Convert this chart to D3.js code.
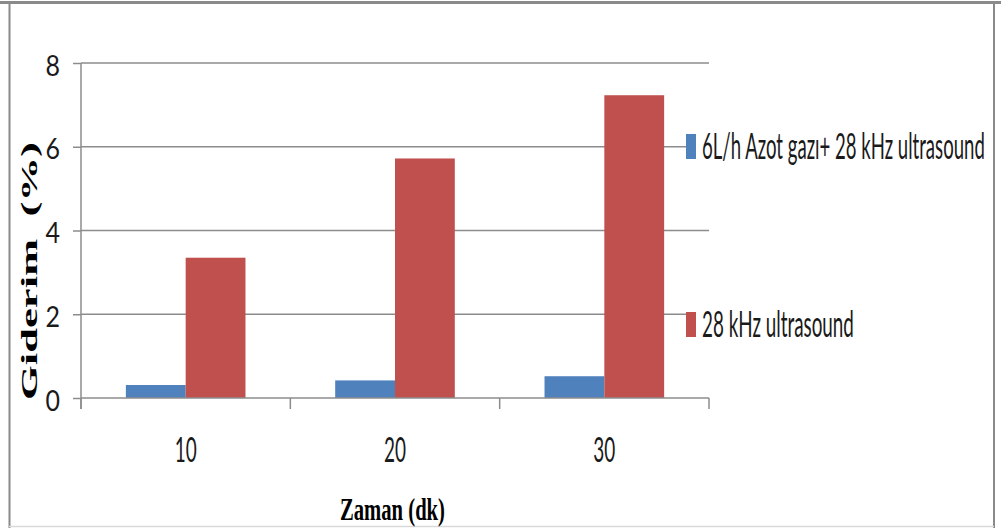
<!DOCTYPE html>
<html>
<head>
<meta charset="utf-8">
<script src="https://cdn.jsdelivr.net/npm/d3@7"></script>
<style>
  html, body { margin: 0; padding: 0; background: #fff; }
  svg { display: block; }
</style>
</head>
<body>
<svg id="chart" width="1001" height="528"></svg>
<script>
// ---- data ----
const categories = ["10", "20", "30"];
const seriesNames = ["6L/h Azot gazı+ 28 kHz ultrasound", "28 kHz ultrasound"];
const azotValues = [0.31, 0.42, 0.52];
const ultrasoundValues = [3.35, 5.72, 7.23];
const seriesColors = ["#4F81BD", "#C0504D"];
const yTicks = [0, 2, 4, 6, 8];
const xTitle = "Zaman (dk)";
const yTitle = "Giderim  (%)";

const seriesValues = [azotValues, ultrasoundValues];

const svg = d3.select("#chart");
const plot = { left: 81, right: 709, top: 63, bottom: 398 };
const sansFont = "Lato, 'Open Sans', sans-serif";
const serifFont = "'Liberation Serif', 'Times New Roman', serif";

// place a text at (px,py) with a horizontal squeeze so that its width equals w
function fitText(sel, px, py, w, rotate) {
  sel.each(function () {
    const t = d3.select(this);
    t.attr("x", 0).attr("y", 0).attr("dy", null);
    const natural = this.getComputedTextLength();
    const s = w / natural;
    const rot = rotate ? ` rotate(${rotate})` : "";
    t.attr("transform", `translate(${px},${py})${rot} scale(${s},1)`);
  });
}

// frame
svg.append("rect").attr("x", 0).attr("y", 0).attr("width", 1001).attr("height", 528).attr("fill", "#fff");
svg.append("line").attr("x1", 0).attr("x2", 1001).attr("y1", 2.5).attr("y2", 2.5)
  .attr("stroke", "#8a8a8a").attr("stroke-width", 3);
svg.append("line").attr("x1", 9.5).attr("x2", 9.5).attr("y1", 2).attr("y2", 528)
  .attr("stroke", "#8a8a8a").attr("stroke-width", 2);
svg.append("line").attr("x1", 994).attr("x2", 994).attr("y1", 2).attr("y2", 528)
  .attr("stroke", "#8a8a8a").attr("stroke-width", 2);
svg.append("line").attr("x1", 9).attr("x2", 994).attr("y1", 526.5).attr("y2", 526.5)
  .attr("stroke", "#d9d9d9").attr("stroke-width", 1.5);

// scales
const x = d3.scaleBand().domain(categories).range([plot.left, plot.right]).paddingInner(0).paddingOuter(0);
const xSub = d3.scaleBand().domain(d3.range(seriesNames.length)).range([0, x.bandwidth()])
  .paddingInner(0).paddingOuter(0.75);
const y = d3.scaleLinear().domain([0, 8]).range([plot.bottom, plot.top]);

// gridlines
svg.append("g").selectAll("line").data(yTicks.filter(d => d > 0)).join("line")
  .attr("x1", plot.left).attr("x2", plot.right)
  .attr("y1", d => y(d)).attr("y2", d => y(d))
  .attr("stroke", "#8c8c8c").attr("stroke-width", 1.5);

// bars
const groups = svg.append("g").selectAll("g").data(seriesNames).join("g")
  .attr("fill", (d, i) => seriesColors[i]);
groups.selectAll("rect").data((d, i) => seriesValues[i].map((v, j) => ({ v, cat: categories[j], s: i })))
  .join("rect")
  .attr("x", d => x(d.cat) + xSub(d.s))
  .attr("width", xSub.bandwidth())
  .attr("y", d => y(d.v))
  .attr("height", d => y(0) - y(d.v));

// y axis
const yAxis = svg.append("g").attr("transform", `translate(${plot.left},0)`)
  .call(d3.axisLeft(y).tickValues(yTicks).tickSize(8).tickPadding(21).tickFormat(d3.format("d")));
yAxis.select(".domain").attr("stroke", "#8c8c8c").attr("stroke-width", 1.5)
  .attr("d", `M0,${plot.top}V${plot.bottom + 11}`);
yAxis.selectAll(".tick line").attr("stroke", "#8c8c8c").attr("stroke-width", 1.5);
yAxis.selectAll(".tick text")
  .attr("font-family", sansFont).attr("font-size", 29).attr("fill", "#1a1a1a")
  .attr("text-anchor", "end")
  .each(function () { fitText(d3.select(this), -21, 12, 14.5); });

// x axis
const xAxis = svg.append("g").attr("transform", `translate(0,${plot.bottom})`)
  .call(d3.axisBottom(x).tickSize(0).tickPadding(0));
xAxis.select(".domain").attr("stroke", "#8c8c8c").attr("stroke-width", 1.5)
  .attr("d", `M${plot.left},0H${plot.right}`);
xAxis.selectAll(".tick text")
  .attr("font-family", sansFont).attr("font-size", 35).attr("fill", "#1a1a1a")
  .attr("text-anchor", "middle")
  .each(function () { fitText(d3.select(this), 0, 64, 22); });
// category separators
const sepPositions = categories.map(c => x(c)).concat([x(categories[categories.length - 1]) + x.bandwidth()]);
xAxis.append("g").selectAll("line").data(sepPositions).join("line")
  .attr("x1", d => d).attr("x2", d => d).attr("y1", 0).attr("y2", 11)
  .attr("stroke", "#8c8c8c").attr("stroke-width", 1.5);

// legend
const legendRows = [159, 337];
const legendWidths = [283, 152];
const legend = svg.append("g").selectAll("g").data(seriesNames).join("g");
legend.append("rect").attr("x", 686).attr("y", (d, i) => legendRows[i] - 30)
  .attr("width", 300).attr("height", 38).attr("fill", "#fff");
legend.append("rect").attr("x", 686).attr("y", (d, i) => legendRows[i] - 25)
  .attr("width", 10).attr("height", 25).attr("fill", (d, i) => seriesColors[i]);
legend.append("text")
  .attr("font-family", sansFont).attr("font-size", 36).attr("fill", "#1a1a1a")
  .text(d => d)
  .each(function (d, i) { fitText(d3.select(this), 702, legendRows[i], legendWidths[i]); });

// axis titles
svg.append("text").attr("text-anchor", "middle")
  .attr("font-family", serifFont).attr("font-weight", "bold")
  .attr("font-size", 31).attr("fill", "#000")
  .text(xTitle)
  .call(sel => fitText(sel, 392.5, 520, 105));
svg.append("text").attr("text-anchor", "middle")
  .attr("font-family", serifFont).attr("font-weight", "bold")
  .attr("font-size", 23).attr("fill", "#000").style("white-space", "pre")
  .text(yTitle)
  .call(sel => fitText(sel, 37, 271, 258, -90));
</script>
</body>
</html>
